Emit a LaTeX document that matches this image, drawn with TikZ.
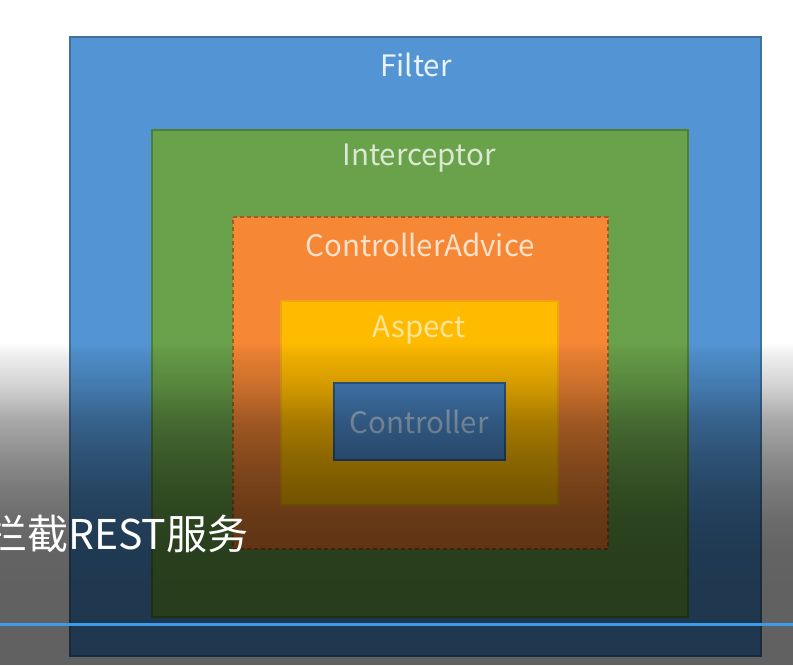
\documentclass[tikz,border=0pt]{standalone}
\usepackage{fontspec}
\setmainfont{Noto Sans CJK SC}
\definecolor{filterfill}{HTML}{5395D4}
\definecolor{filterdraw}{HTML}{41719C}
\definecolor{interfill}{HTML}{6AA24B}
\definecolor{interdraw}{HTML}{4F7F35}
\definecolor{advfill}{HTML}{F58735}
\definecolor{advdraw}{HTML}{A9571E}
\definecolor{aspfill}{HTML}{FFBB00}
\definecolor{aspdraw}{HTML}{EFA510}
\definecolor{ctlfill}{HTML}{4A86C4}
\definecolor{ctldraw}{HTML}{2E5C8A}
\definecolor{linecol}{HTML}{3D9BE9}
\tikzset{
  box/.style={draw, line width=1.2pt, inner sep=0pt, outer sep=0pt},
  lbl/.style={font=\fontsize{29.5}{34}\selectfont, inner sep=0pt, anchor=center}
}
\begin{document}
\begin{tikzpicture}[x=1pt,y=-1pt]
\clip (0,0) rectangle (793,665);
\fill[white] (0,0) rectangle (793,665);
\node[box, draw=filterdraw, fill=filterfill, minimum width=691pt, minimum height=619pt] (filter) at (415.5,346.5) {};
\node[box, draw=interdraw, fill=interfill, minimum width=536pt, minimum height=487pt] (inter) at (420,373.5) {};
\node[box, draw=advdraw, fill=advfill, dashed, dash pattern=on 4pt off 3pt, minimum width=375pt, minimum height=332pt] (adv) at (420.5,383) {};
\node[box, draw=aspdraw, fill=aspfill, minimum width=277pt, minimum height=204pt] (asp) at (419.5,403) {};
\node[box, draw=ctldraw, fill=ctlfill, minimum width=171pt, minimum height=77pt] (ctl) at (419.5,421.5) {};
\node[lbl, text=white!88!filterfill] (tfilter) at (416,65) {Filter};
\node[lbl, text=white!75!interfill] (tinter) at (419,158) {Interceptor};
\node[lbl, text=white!75!advfill] (tadv) at (420,245) {ControllerAdvice};
\node[lbl, text=white!60!aspfill] (tasp) at (419,330) {Aspect};
\node[lbl, text=white!55!ctlfill] (tctl) at (419,422) {Controller};
% dark overlay built from 1px strips (piecewise-linear opacity)
\foreach \a/\b/\oa/\ob in {343/353/0/0.06, 353/387/0.06/0.18, 387/420/0.18/0.34, 420/453/0.34/0.44, 453/487/0.44/0.52, 487/520/0.52/0.58, 520/553/0.58/0.61, 553/590/0.61/0.62, 590/665/0.62/0.62}{
  \pgfmathtruncatemacro\bm{\b-1}
  \foreach \yy in {\a,...,\bm}{
    \pgfmathsetmacro\op{\oa+(\ob-\oa)*(\yy-\a)/(\b-\a)}
    \fill[black, opacity=\op] (0,\yy) rectangle (793,\yy+1);
  }
}
% caption and line
\node[font=\fontsize{41}{46}\selectfont, text=white, anchor=base west, inner sep=0pt] (cap) at (-14,549) {拦截REST服务};
\coordinate (l1) at (0,624);
\coordinate (l2) at (793,624);
\draw[linecol, line width=3pt] (l1) -- (l2);
\end{tikzpicture}
\end{document}
